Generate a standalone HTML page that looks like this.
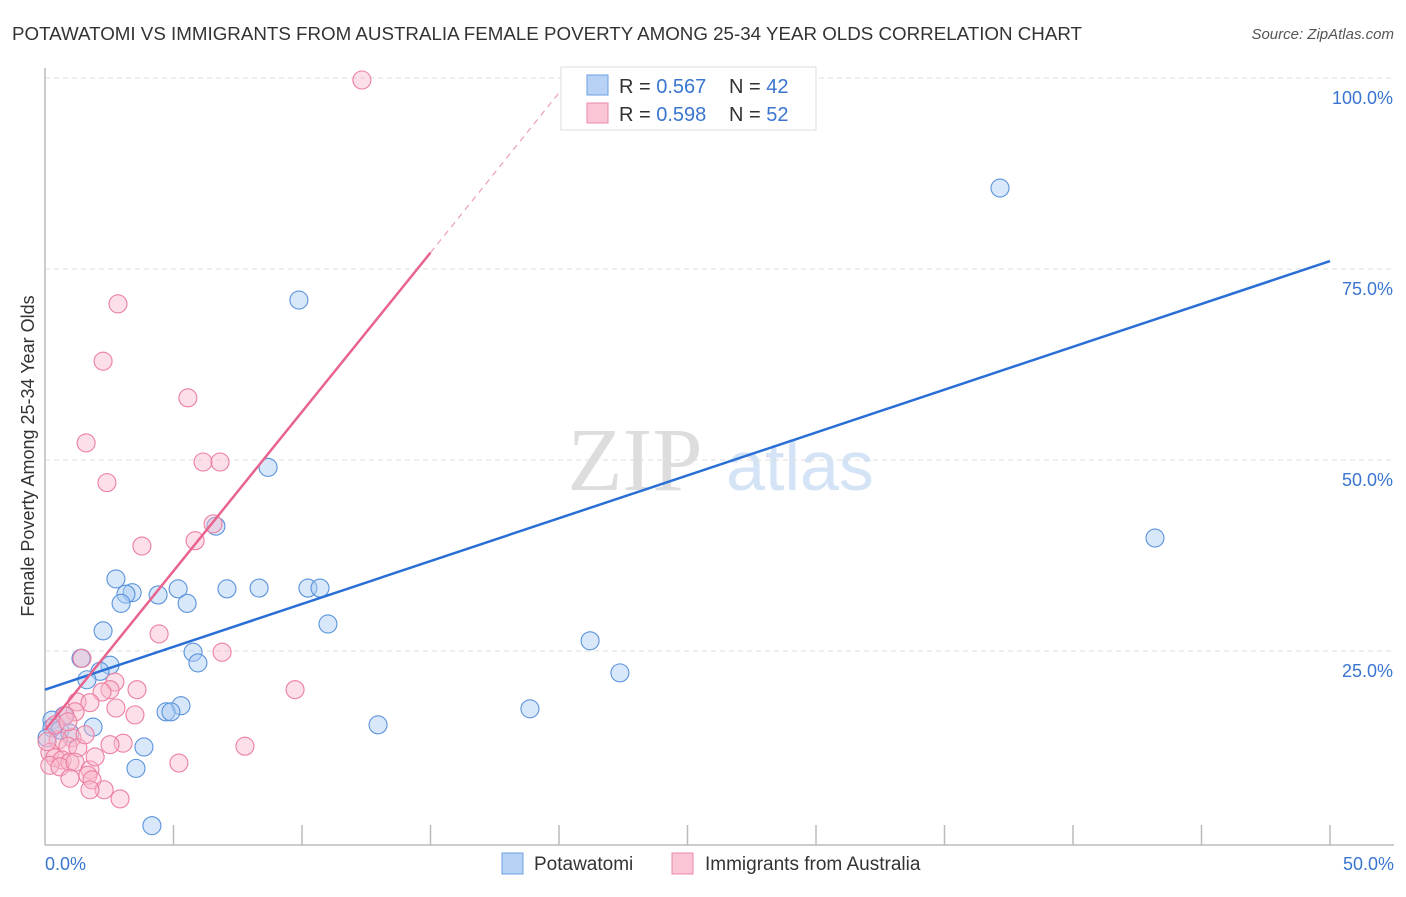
<!DOCTYPE html>
<html><head><meta charset="utf-8"><style>
body{margin:0;background:#fff;font-family:"Liberation Sans",sans-serif}
</style></head><body>
<svg width="1406" height="892" xmlns="http://www.w3.org/2000/svg" font-family="Liberation Sans, sans-serif">
<text x="12" y="40" font-size="18" fill="#333" textLength="1070" lengthAdjust="spacingAndGlyphs">POTAWATOMI VS IMMIGRANTS FROM AUSTRALIA FEMALE POVERTY AMONG 25-34 YEAR OLDS CORRELATION CHART</text>
<text x="1394" y="39" font-size="15" fill="#555" font-style="italic" text-anchor="end">Source: ZipAtlas.com</text>
<g>
<text x="635" y="490" font-size="90" fill="#ddd" font-family="Liberation Serif, serif" text-anchor="middle">ZIP</text>
<text x="800" y="490" font-size="70" fill="#d4e3f5" text-anchor="middle">atlas</text>
</g>
<g id="grid"></g>
<g id="axes"></g>
<g id="marks"></g>
<text transform="translate(34,456) rotate(-90)" font-size="18" fill="#333" text-anchor="middle">Female Poverty Among 25-34 Year Olds</text>
<g>
<rect x="561" y="67" width="255" height="63" fill="#fff" stroke="#ddd"/>
<rect x="587" y="75" width="21" height="20" fill="#b8d2f5" stroke="#6a9fe0"/>
<rect x="587" y="103" width="21" height="20" fill="#fac6d6" stroke="#ec88a8"/>
<text x="619" y="93" font-size="20" fill="#333">R = <tspan fill="#3a75d0">0.567</tspan></text>
<text x="729" y="93" font-size="20" fill="#333">N = <tspan fill="#3a75d0">42</tspan></text>
<text x="619" y="121" font-size="20" fill="#333">R = <tspan fill="#3a75d0">0.598</tspan></text>
<text x="729" y="121" font-size="20" fill="#333">N = <tspan fill="#3a75d0">52</tspan></text>
</g>
<g>
<rect x="502" y="853" width="21" height="21" fill="#b8d2f5" stroke="#6a9fe0"/>
<text x="534" y="870" font-size="19" fill="#333">Potawatomi</text>
<rect x="672" y="853" width="21" height="21" fill="#fac6d6" stroke="#ec88a8"/>
<text x="705" y="870" font-size="19" fill="#333">Immigrants from Australia</text>
</g>
<script>
const xTickLabels=["0.0%","50.0%"];
const yTicks=[25,50,75,100];
const yTickLabels=["25.0%","50.0%","75.0%","100.0%"];
const blueX=[25.37,37.16,9.88,8.68,43.19,2.76,3.39,3.15,2.96,4.40,5.18,5.53,7.08,8.33,10.23,10.70,11.01,2.26,21.21,1.40,2.53,5.76,5.95,2.14,1.63,22.37,5.29,4.71,4.90,18.87,12.96,1.87,0.74,0.27,0.27,0.58,0.97,3.85,3.54,4.16,6.65,0.08];
const blueY=[100,85.86,71.2,49.3,40.05,34.7,32.9,32.7,31.5,32.6,33.4,31.5,33.4,33.5,33.5,33.5,28.8,27.9,26.6,24.3,23.4,25.1,23.7,22.6,21.5,22.4,18.1,17.3,17.3,17.7,15.6,15.3,16.8,16.2,15.2,14.9,14.5,12.7,9.9,2.4,41.6,13.9];
const pinkX=[12.33,2.84,2.26,5.56,1.60,6.15,6.81,2.41,3.77,5.84,6.54,4.44,6.89,1.44,9.73,3.58,2.72,2.53,2.22,1.25,1.75,2.76,1.17,0.78,7.78,3.04,2.53,1.05,0.51,0.89,1.28,0.19,0.39,0.66,0.97,0.19,0.58,1.17,1.75,1.67,0.97,1.83,2.30,1.75,2.92,5.21,1.95,0.08,0.39,0.89,1.56,3.50];
const pinkY=[100,70.7,63.2,58.4,52.5,50.0,50.0,47.3,39.0,39.7,41.9,27.5,25.1,24.3,20.2,20.2,21.2,20.2,19.9,18.6,18.5,17.8,17.3,16.8,12.8,13.2,13.0,13.9,13.6,12.8,12.6,12.0,11.3,11.0,10.7,10.3,10.1,10.7,9.7,9.0,8.6,8.4,7.1,7.1,5.9,10.6,11.4,13.4,15.6,16.0,14.3,16.9];
const blueLine=[[0,20.2],[50,76.3]];
const pinkLine=[[0,14.9],[15,77.4]];
const pinkDash=[[15,77.4],[20.4,100]];
const NS="http://www.w3.org/2000/svg";
const X=v=>45+v*25.7, Y=v=>844-v*7.64;
function mk(p,t,a){const e=document.createElementNS(NS,t);for(const k in a)e.setAttribute(k,a[k]);document.getElementById(p).appendChild(e);return e;}
yTicks.forEach((t,i)=>{
 let g=mk('grid','line',{x1:45,x2:1394,y1:Y(t)-2,y2:Y(t)-2,stroke:'#ddd','stroke-dasharray':'5,4'});
 
 
 let l=mk('grid','text',{x:1393,y:Y(t)+24,'font-size':18,fill:'#3a75d0','text-anchor':'end'});
 l.textContent=yTickLabels[i];
 
 
});
let ax=mk('axes','line',{x1:45,x2:45,y1:68,y2:845,stroke:'#bbb','stroke-width':1.5});


let bx=mk('axes','line',{x1:45,x2:1394,y1:845,y2:845,stroke:'#bbb','stroke-width':1.5});


for(let v=5;v<=50;v+=5){let t=mk('axes','line',{x1:X(v),x2:X(v),y1:825,y2:845,stroke:'#bbb','stroke-width':1.5});
 
 }
[[0,'start',45],[50,'end',1394]].forEach((d,i)=>{let t=mk('axes','text',{x:d[2],y:870,'font-size':18,fill:'#3a75d0','text-anchor':d[1]});t.textContent=xTickLabels[i];
 
 });
function dots(xs,ys,fill,stroke,name){xs.forEach((x,i)=>{let c=mk('marks','circle',{cx:X(x),cy:Y(ys[i]),r:9,fill:fill,'fill-opacity':0.45,stroke:stroke,'stroke-width':1.1});
 
 });}
dots(blueX,blueY,'#a9c9f2','#5a93dc','potawatomi-point');
dots(pinkX,pinkY,'#f8b8cb','#ec7fa2','australia-point');
let bl=mk('marks','line',{x1:X(blueLine[0][0]),y1:Y(blueLine[0][1]),x2:X(blueLine[1][0]),y2:Y(blueLine[1][1]),stroke:'#2a6fd6','stroke-width':2.5});


let pl=mk('marks','line',{x1:X(pinkLine[0][0]),y1:Y(pinkLine[0][1]),x2:X(pinkLine[1][0]),y2:Y(pinkLine[1][1]),stroke:'#e8648e','stroke-width':2.5});


let pd=mk('marks','line',{x1:X(pinkDash[0][0]),y1:Y(pinkDash[0][1]),x2:X(pinkDash[1][0]),y2:Y(pinkDash[1][1]),stroke:'#eaa0b8','stroke-width':1.2,'stroke-dasharray':'6,5'});


</script>
</svg>
</body></html>
